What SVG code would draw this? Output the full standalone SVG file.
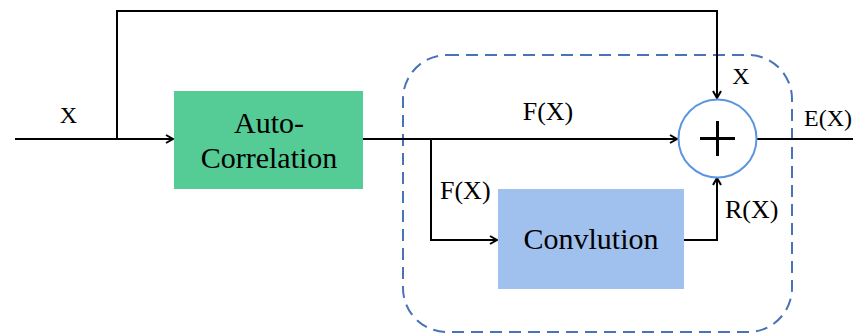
<svg xmlns="http://www.w3.org/2000/svg" width="853" height="336" viewBox="0 0 853 336">
  <style>
    .wire { fill: none; stroke: #000; stroke-width: 2; }
    .lbl { font-family: 'Liberation Serif', 'DejaVu Serif', serif; fill: #000; }
  </style>
  <defs>
    <marker id="arrow" markerWidth="10" markerHeight="10" refX="8" refY="5" orient="auto" markerUnits="userSpaceOnUse">
      <path d="M1,1 L8,5 L1,9" fill="none" stroke="#000" stroke-width="2"/>
    </marker>
  </defs>
  <rect width="853" height="336" fill="#fff"/>

  <!-- dashed residual block boundary -->
  <rect id="block" x="403" y="55" width="389" height="277" rx="44" ry="44" fill="none" stroke="#4A72B8" stroke-width="2" stroke-dasharray="12 7"/>

  <g id="connectors">
    <path class="wire" d="M15,139 H173" marker-end="url(#arrow)"/>
    <path class="wire" d="M117,139 V11 H717 V98" marker-end="url(#arrow)"/>
    <path class="wire" d="M363,139 H677" marker-end="url(#arrow)"/>
    <path class="wire" d="M431,139 V240 H497" marker-end="url(#arrow)"/>
    <path class="wire" d="M684,240 H717 V178" marker-end="url(#arrow)"/>
    <path class="wire" d="M757,139 H853"/>
  </g>

  <g id="autocorrelation">
    <rect x="174" y="91" width="189" height="98" fill="#55CB96"/>
    <text class="lbl" x="269" y="133" font-size="30" text-anchor="middle">Auto-</text>
    <text class="lbl" x="269" y="168" font-size="30" text-anchor="middle">Correlation</text>
  </g>

  <g id="convolution">
    <rect x="498" y="189" width="186" height="100" fill="#A0C0EE"/>
    <text class="lbl" x="591" y="249" font-size="30" text-anchor="middle">Convlution</text>
  </g>

  <g id="sum">
    <circle cx="717.5" cy="138.5" r="39" fill="#fff" stroke="#5B95E0" stroke-width="2"/>
    <path d="M700,138.5 H735 M717.5,121 V156" stroke="#000" stroke-width="3" fill="none"/>
  </g>

  <g id="labels">
    <text class="lbl" x="68.5" y="123" font-size="24" text-anchor="middle">X</text>
    <text class="lbl" x="548" y="120" font-size="26" text-anchor="middle">F(X)</text>
    <text class="lbl" x="741" y="84" font-size="24" text-anchor="middle">X</text>
    <text class="lbl" x="804" y="126" font-size="24">E(X)</text>
    <text class="lbl" x="440" y="199" font-size="26">F(X)</text>
    <text class="lbl" x="725" y="218" font-size="26">R(X)</text>
  </g>
</svg>
